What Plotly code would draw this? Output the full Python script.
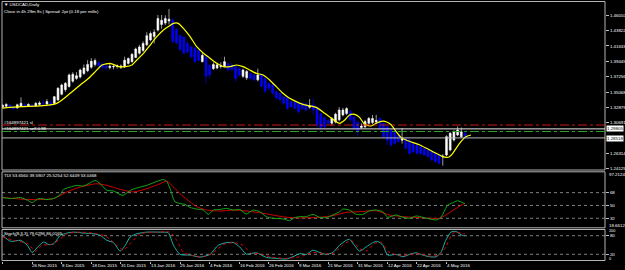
import plotly.graph_objects as go

# ---------------- data ----------------
date_labels = ["16 Nov 2015", "26 Nov 2015", "8 Dec 2015", "18 Dec 2015", "31 Dec 2015",
               "13 Jan 2016", "25 Jan 2016", "4 Feb 2016", "16 Feb 2016", "26 Feb 2016",
               "9 Mar 2016", "21 Mar 2016", "31 Mar 2016", "12 Apr 2016", "22 Apr 2016",
               "4 May 2016"]
label_bars = [0, 8, 16, 24, 32, 40, 48, 56, 64, 72, 80, 88, 96, 104, 112, 120]

opens = [1.3290, 1.3305, 1.3320, 1.3290, 1.3280, 1.3300, 1.3325, 1.3310, 1.3320, 1.3310,
         1.3330, 1.3340, 1.3335, 1.3355, 1.3345, 1.3393, 1.3475, 1.3540, 1.3585, 1.3660,
         1.3700, 1.3720, 1.3770, 1.3810, 1.3860, 1.3900, 1.3925, 1.3905, 1.3880, 1.3855,
         1.3865, 1.3870, 1.3860, 1.3868, 1.3915, 1.3940, 1.4000, 1.4060, 1.4100, 1.4180,
         1.4250, 1.4300, 1.4390, 1.4470, 1.4490, 1.4520, 1.4534, 1.4400, 1.4310, 1.4290,
         1.4200, 1.4150, 1.4130, 1.4100, 1.3940, 1.4010, 1.3890, 1.3840, 1.3850, 1.3870,
         1.3870, 1.3910, 1.3890, 1.3870, 1.3840, 1.3730, 1.3710, 1.3770, 1.3750, 1.3680,
         1.3750, 1.3700, 1.3630, 1.3610, 1.3510, 1.3490, 1.3440, 1.3420, 1.3370, 1.3365,
         1.3345, 1.3345, 1.3340, 1.3290, 1.3320, 1.3290, 1.3200, 1.3140, 1.3100, 1.3060,
         1.3080, 1.3110, 1.3180, 1.3200, 1.3230, 1.3150, 1.3080, 1.3000, 1.3010, 1.3060,
         1.3070, 1.3080, 1.3130, 1.3060, 1.3010, 1.2960, 1.2940, 1.2890, 1.2820, 1.2845,
         1.2820, 1.2770, 1.2750, 1.2725, 1.2700, 1.2680, 1.2655, 1.2630, 1.2608, 1.2580,
         1.2608, 1.2680, 1.2822, 1.2893, 1.2869, 1.2917]
highs = [1.3330, 1.3345, 1.3335, 1.3310, 1.3340, 1.3430, 1.3355, 1.3345, 1.3340, 1.3365,
         1.3375, 1.3390, 1.3405, 1.3390, 1.3450, 1.3575, 1.3625, 1.3650, 1.3770, 1.3790,
         1.3790, 1.3840, 1.3900, 1.3960, 1.3990, 1.3985, 1.3950, 1.3930, 1.3905, 1.3910,
         1.3890, 1.3900, 1.3900, 1.4011, 1.4000, 1.4060, 1.4140, 1.4180, 1.4230, 1.4360,
         1.4370, 1.4400, 1.4605, 1.4605, 1.4600, 1.4690, 1.4560, 1.4420, 1.4330, 1.4300,
         1.4230, 1.4170, 1.4150, 1.4110, 1.4060, 1.4030, 1.3900, 1.3930, 1.3920, 1.3930,
         1.4010, 1.3930, 1.3910, 1.3890, 1.3860, 1.3840, 1.3820, 1.3790, 1.3770, 1.3840,
         1.3770, 1.3710, 1.3640, 1.3620, 1.3530, 1.3500, 1.3450, 1.3430, 1.3380, 1.3380,
         1.3360, 1.3360, 1.3350, 1.3405, 1.3410, 1.3300, 1.3210, 1.3160, 1.3120, 1.3150,
         1.3210, 1.3290, 1.3280, 1.3290, 1.3250, 1.3160, 1.3090, 1.3060, 1.3110, 1.3150,
         1.3180, 1.3180, 1.3150, 1.3070, 1.3020, 1.2970, 1.2950, 1.2900, 1.2990, 1.2855,
         1.2830, 1.2780, 1.2760, 1.2735, 1.2710, 1.2690, 1.2665, 1.2640, 1.2615, 1.2620,
         1.2890, 1.2935, 1.2960, 1.3015, 1.3000, 1.2930]
lows = [1.3270, 1.3285, 1.3260, 1.3245, 1.3270, 1.3290, 1.3290, 1.3295, 1.3290, 1.3300,
        1.3310, 1.3315, 1.3325, 1.3300, 1.3335, 1.3380, 1.3460, 1.3510, 1.3570, 1.3640,
        1.3680, 1.3700, 1.3750, 1.3790, 1.3840, 1.3870, 1.3840, 1.3820, 1.3825, 1.3830,
        1.3830, 1.3840, 1.3835, 1.3850, 1.3900, 1.3925, 1.3990, 1.4040, 1.4080, 1.4160,
        1.4230, 1.4200, 1.4370, 1.4410, 1.4460, 1.4470, 1.4200, 1.4180, 1.4090, 1.4040,
        1.4050, 1.3990, 1.3920, 1.3940, 1.3930, 1.3630, 1.3700, 1.3820, 1.3830, 1.3840,
        1.3860, 1.3800, 1.3800, 1.3650, 1.3720, 1.3710, 1.3680, 1.3680, 1.3660, 1.3660,
        1.3570, 1.3490, 1.3530, 1.3470, 1.3400, 1.3370, 1.3320, 1.3250, 1.3280, 1.3250,
        1.3200, 1.3250, 1.3230, 1.3270, 1.3180, 1.3000, 1.2960, 1.2990, 1.3030, 1.3030,
        1.3060, 1.3090, 1.3160, 1.3180, 1.3090, 1.2970, 1.2870, 1.2980, 1.2990, 1.3040,
        1.3050, 1.3050, 1.2970, 1.2850, 1.2750, 1.2730, 1.2760, 1.2780, 1.2770, 1.2690,
        1.2610, 1.2640, 1.2615, 1.2610, 1.2590, 1.2570, 1.2520, 1.2495, 1.2470, 1.2456,
        1.2590, 1.2660, 1.2800, 1.2880, 1.2850, 1.2840]
closes = [1.3320, 1.3330, 1.3280, 1.3270, 1.3325, 1.3345, 1.3305, 1.3330, 1.3305, 1.3345,
          1.3350, 1.3335, 1.3370, 1.3320, 1.3440, 1.3560, 1.3607, 1.3630, 1.3750, 1.3760,
          1.3740, 1.3820, 1.3850, 1.3900, 1.3945, 1.3955, 1.3880, 1.3860, 1.3850, 1.3875,
          1.3870, 1.3880, 1.3875, 1.3960, 1.3985, 1.4045, 1.4120, 1.4150, 1.4200, 1.4310,
          1.4340, 1.4360, 1.4555, 1.4530, 1.4555, 1.4545, 1.4230, 1.4210, 1.4110, 1.4060,
          1.4080, 1.4010, 1.3940, 1.3960, 1.4030, 1.3730, 1.3750, 1.3900, 1.3895, 1.3880,
          1.3940, 1.3820, 1.3830, 1.3700, 1.3750, 1.3820, 1.3800, 1.3700, 1.3680, 1.3750,
          1.3590, 1.3520, 1.3560, 1.3490, 1.3420, 1.3395, 1.3345, 1.3275, 1.3300, 1.3275,
          1.3225, 1.3270, 1.3250, 1.3310, 1.3250, 1.3040, 1.3000, 1.3010, 1.3060, 1.3130,
          1.3190, 1.3250, 1.3250, 1.3270, 1.3110, 1.2990, 1.2940, 1.3020, 1.3085, 1.3130,
          1.3130, 1.3100, 1.2990, 1.2870, 1.2820, 1.2750, 1.2775, 1.2800, 1.2840, 1.2705,
          1.2630, 1.2655, 1.2630, 1.2630, 1.2608, 1.2585, 1.2537, 1.2513, 1.2490, 1.2590,
          1.2870, 1.2917, 1.2940, 1.2965, 1.2940, 1.2852]

ma_bars = [0, 4.9, 10.2, 14.3, 16.1, 18.3, 21.0, 23.3, 25.1, 26.9, 29.1, 31.4, 33.2, 35.0,
           36.3, 38.1, 39.9, 41.7, 43.5, 44.8, 46.2, 47.5, 48.9, 50.7, 52.5, 54.3, 56.1,
           57.9, 59.7, 61.5, 63.3, 65.0, 66.8, 68.6, 70.4, 72.2, 74.0, 75.8, 77.6, 79.4,
           81.2, 83.0, 84.8, 87.1, 89.3, 91.1, 92.5, 93.8, 95.2, 96.5, 97.8, 99.6, 101.0,
           102.4, 103.7, 105.1, 106.4, 107.8, 109.1, 111.0, 112.8, 114.6, 116.3, 118.1,
           119.0, 119.9, 120.8, 121.7, 122.6, 123.9, 125.2, 126.6]
ma_vals = [1.3278, 1.3297, 1.3309, 1.3337, 1.3393, 1.3488, 1.3607, 1.3702, 1.3797, 1.3892,
           1.3916, 1.3868, 1.3868, 1.3892, 1.3963, 1.4059, 1.4177, 1.4296, 1.4391, 1.4439,
           1.4486, 1.4486, 1.4415, 1.4296, 1.4153, 1.4059, 1.3987, 1.3916, 1.3868, 1.3868,
           1.3892, 1.3868, 1.3821, 1.3773, 1.3749, 1.3678, 1.3583, 1.3488, 1.3416, 1.3369,
           1.3331, 1.3309, 1.3288, 1.3202, 1.3117, 1.3060, 1.3107, 1.3179, 1.3188, 1.3145,
           1.3050, 1.3022, 1.3060, 1.3088, 1.3083, 1.3036, 1.2941, 1.2855, 1.2822, 1.2784,
           1.2751, 1.2703, 1.2655, 1.2608, 1.2584, 1.2575, 1.2584, 1.2632, 1.2703, 1.2798,
           1.2869, 1.2893]

tdi_green_bars = [0, 2.2, 4.9, 6.7, 8.0, 9.8, 12.0, 13.8, 15.6, 16.5, 18.3, 20.1, 21.9, 23.7,
                  25.1, 26.4, 28.2, 30.0, 31.8, 32.7, 34.5, 36.3, 39.0, 41.7, 43.5, 44.4,
                  45.3, 46.6, 48.0, 49.3, 50.7, 52.5, 54.3, 55.6, 57.0, 58.8, 60.6, 62.4,
                  64.1, 65.9, 67.7, 69.5, 71.3, 73.1, 75.8, 77.6, 78.9, 80.3, 82.1, 83.9,
                  85.7, 87.5, 89.3, 91.1, 92.0, 93.8, 95.6, 97.4, 99.2, 101.0, 102.8, 104.1,
                  106.4, 108.2, 110.0, 111.8, 113.6, 115.4, 117.2, 118.0, 118.9, 120.3,
                  121.6, 123.0, 124.3, 125]
tdi_green_vals = [61.1, 59.7, 61.1, 57.4, 54.2, 59.7, 58.3, 59.7, 65.2, 72.6, 75.8, 78.2, 77.2,
                  81.8, 85.1, 80.5, 71.2, 70.3, 65.2, 64.3, 71.2, 74.5, 78.2, 83.7, 86.5, 83.7,
                  73.5, 55.1, 52.8, 51.4, 47.2, 44.9, 43.5, 37.5, 43.5, 44.5, 45.8, 43.5, 44.5,
                  38.0, 43.5, 41.2, 34.3, 32.0, 31.1, 28.8, 32.9, 34.3, 34.3, 37.5, 33.4, 32.9,
                  36.6, 41.2, 44.9, 43.5, 37.5, 37.5, 42.6, 43.5, 41.2, 33.4, 36.6, 33.4, 32.0,
                  35.2, 33.4, 31.1, 29.7, 31.1, 36.6, 50.5, 53.7, 56.5, 54.2, 52.6]
tdi_red_bars = [0, 3.1, 6.7, 10.2, 13.8, 17.4, 21.0, 25.5, 28.2, 31.8, 35.4, 39.0, 42.6, 44.4,
                46.2, 48.4, 50.7, 52.5, 55.2, 58.8, 62.4, 65.9, 69.5, 73.1, 76.7, 80.3, 85.7,
                89.3, 92.9, 96.5, 101.0, 104.6, 108.2, 112.7, 116.3, 118.0, 119.8, 121.6,
                124.3, 125]
tdi_red_vals = [61.1, 59.7, 58.3, 58.3, 59.7, 68.9, 75.8, 80.5, 78.2, 72.6, 68.9, 73.5, 80.5,
                84.2, 75.8, 64.3, 55.1, 48.2, 43.5, 42.2, 43.5, 42.2, 39.8, 36.6, 33.4, 32.5,
                33.4, 35.7, 40.3, 41.2, 42.6, 36.6, 34.3, 32.9, 32.0, 32.0, 36.6, 42.6, 51.4,
                53.0]

stoch_main_bars = [0, 2.2, 4.9, 6.7, 8.0, 9.3, 11.1, 12.5, 13.8, 15.6, 17.4, 19.2, 21.9, 24.6,
                   26.4, 28.2, 30.0, 31.8, 33.2, 34.5, 36.3, 39.0, 42.6, 44.8, 46.2, 48.0,
                   50.7, 53.4, 56.1, 58.3, 60.6, 62.4, 64.1, 65.9, 68.6, 71.3, 74.0, 76.7,
                   78.5, 80.3, 82.1, 83.9, 85.7, 87.5, 89.3, 91.1, 92.9, 93.8, 95.1, 96.5,
                   98.3, 100.1, 101.4, 102.8, 104.1, 106.4, 108.2, 110.0, 111.8, 113.6, 115.4,
                   117.2, 118.5, 119.8, 121.2, 122.5, 124.3, 125]
stoch_main_vals = [81, 61.9, 65, 49.2, 25.9, 40.7, 59.8, 51.3, 53.4, 81, 88.4, 91.5, 88.4, 86.2,
                   81, 65, 57.7, 30.2, 49.2, 75.7, 86.2, 91.5, 91.5, 89.4, 49.2, 19.6, 17.5,
                   11.1, 19.6, 49.2, 57.7, 57.7, 43.9, 20.6, 24.9, 10.1, 6.9, 4.8, 12.2, 22,
                   19.6, 33.3, 25.9, 19.6, 25.9, 49.2, 65, 68.3, 49.2, 30.2, 43.9, 57.7, 61.9,
                   49.2, 17.5, 19.6, 12.2, 19.6, 24.9, 17.5, 12.2, 12.2, 25.9, 65, 91.5, 93.7,
                   81, 79.6]
stoch_sig_bars = [0, 3.1, 6.7, 8.9, 10.7, 12.9, 15.2, 17.4, 21.0, 25.5, 28.2, 30.9, 32.7, 34.9,
                  37.2, 41.7, 45.3, 47.1, 48.9, 51.6, 54.3, 57.0, 59.7, 62.4, 65.0, 67.3, 69.5,
                  72.2, 75.8, 79.4, 81.5, 83.9, 86.6, 89.3, 92.0, 94.2, 96.5, 98.3, 100.5,
                  102.3, 104.1, 107.3, 110.0, 112.7, 115.4, 118.0, 119.8, 121.6, 123.0, 124.3,
                  125]
stoch_sig_vals = [75.7, 65, 54.5, 30.2, 49.2, 51.3, 65, 86.2, 91.5, 86.2, 75.7, 49.2, 33.3, 59.8,
                  86.2, 91.5, 91.5, 65, 25.9, 15.3, 12.2, 25.9, 51.3, 57.7, 49.2, 22.8, 22.8,
                  12.2, 6.9, 10.1, 16, 25.9, 21.7, 22.8, 49.2, 65, 38.6, 30.2, 54.5, 59.8, 30.2,
                  15.3, 19.6, 21.7, 14.3, 17.5, 43.9, 86.2, 91.5, 86.2, 86.0]

price_tick_vals = [1.46010, 1.43822, 1.41633, 1.39445, 1.37256, 1.35068, 1.32879, 1.30691,
                   1.26314, 1.24125]
price_tick_text = ["1.46010", "1.43822", "1.41633", "1.39445", "1.37256", "1.35068",
                   "1.32879", "1.30691", "1.26314", "1.24125"]
tdi_levels = [68, 50, 32]
stoch_levels = [80, 20]
tdi_scale = [18.6612, 97.2124]
sl_price = 1.30359
open_price = 1.29432
hline_price = 1.29805
bid_price = 1.28518

# ---------------- layout helpers ----------------
W, H = 625, 270
def px(xp):
    return xp / W
def py(yp):
    return 1 - yp / H

X0, X1 = px(2), px(605)
MAIN = [py(170), py(1.5)]
TDI = [py(227.8), py(171.8)]
STO = [py(260.5), py(229.5)]
FONT = "Liberation Sans"
FS = 4.4
bars = list(range(len(opens)))

fig = go.Figure()
fig.add_trace(go.Candlestick(
    x=bars, open=opens, high=highs, low=lows, close=closes,
    increasing=dict(line=dict(color="#ffffff", width=0.6), fillcolor="#ffffff"),
    decreasing=dict(line=dict(color="#0000ff", width=0.6), fillcolor="#0000ff"),
    whiskerwidth=0, xaxis="x", yaxis="y", hoverinfo="skip"))
fig.add_trace(go.Scatter(x=ma_bars, y=ma_vals, mode="lines",
                         line=dict(color="#ffff00", width=1.2, shape="spline", smoothing=0.6),
                         xaxis="x", yaxis="y", hoverinfo="skip"))
fig.add_trace(go.Scatter(x=tdi_red_bars, y=tdi_red_vals, mode="lines",
                         line=dict(color="#d00000", width=1, shape="spline", smoothing=0.6),
                         xaxis="x", yaxis="y2", hoverinfo="skip"))
fig.add_trace(go.Scatter(x=tdi_green_bars, y=tdi_green_vals, mode="lines",
                         line=dict(color="#14a814", width=1, shape="spline", smoothing=0.6),
                         xaxis="x", yaxis="y2", hoverinfo="skip"))
fig.add_trace(go.Scatter(x=stoch_main_bars, y=stoch_main_vals, mode="lines",
                         line=dict(color="#20b2aa", width=1, shape="spline", smoothing=0.6),
                         xaxis="x", yaxis="y3", hoverinfo="skip"))
fig.add_trace(go.Scatter(x=stoch_sig_bars, y=stoch_sig_vals, mode="lines",
                         line=dict(color="#e00000", width=1, dash="dot", shape="spline", smoothing=0.6),
                         xaxis="x", yaxis="y3", hoverinfo="skip"))

axis_common = dict(showgrid=False, zeroline=False, fixedrange=True, side="right",
                   ticks="outside", ticklen=3, tickcolor="#c0c0c0", tickwidth=1,
                   tickfont=dict(family=FONT, size=FS, color="#ffffff"),
                   showline=False, anchor="x")

shapes = []
for dom in (MAIN, TDI, STO):
    shapes.append(dict(type="rect", xref="paper", yref="paper", x0=X0, x1=X1,
                       y0=dom[0], y1=dom[1], line=dict(color="#b4b4b4", width=1),
                       layer="above"))
for lv in tdi_levels:
    shapes.append(dict(type="line", xref="paper", yref="y2", x0=X0, x1=X1, y0=lv, y1=lv,
                       line=dict(color="#808080", width=1, dash="dot"), layer="below"))
for lv in stoch_levels:
    shapes.append(dict(type="line", xref="paper", yref="y3", x0=X0, x1=X1, y0=lv, y1=lv,
                       line=dict(color="#808080", width=1, dash="dot"), layer="below"))
shapes.append(dict(type="line", xref="paper", yref="y", x0=X0, x1=X1, y0=sl_price, y1=sl_price,
                   line=dict(color="#c81818", width=1, dash="dashdot")))
shapes.append(dict(type="line", xref="paper", yref="y", x0=X0, x1=X1, y0=hline_price, y1=hline_price,
                   line=dict(color="#e8e8e8", width=1)))
shapes.append(dict(type="line", xref="paper", yref="y", x0=X0, x1=X1, y0=open_price, y1=open_price,
                   line=dict(color="#2ca02c", width=1, dash="dashdot")))
shapes.append(dict(type="line", xref="paper", yref="y", x0=X0, x1=X1, y0=bid_price, y1=bid_price,
                   line=dict(color="#b8b8b8", width=1)))

def txt(x, y, s, xref="paper", color="#ffffff", bg=None, size=FS):
    d = dict(x=x, y=y, xref=xref, yref="paper", text=s, showarrow=False,
             xanchor="left", yanchor="middle", borderpad=0,
             font=dict(family=FONT, size=size, color=color))
    if bg:
        d["bgcolor"] = bg
    return d

ann = [
    txt(px(2.5), py(5), "▼ USDCAD,Daily"),
    txt(px(3.3), py(11), "Close in 4h 29m 8s | Spread: 2pt (0.18 per mille)"),
    txt(px(3.3), py(123), "#164897421 sl"),
    txt(px(3.3), py(128.3), "#164897421 sell 0.98"),
    txt(px(3.3), py(175), "TDI 53.6560 39.5907 25.5254 52.6449 53.0468"),
    txt(px(3.3), py(233), "Stoch(8,3,3) 79.6296 86.0165"),
    txt(px(607.5), py(174), "%.4f" % tdi_scale[1]),
    txt(px(607.5), py(225), "%.4f" % tdi_scale[0]),
    txt(px(607.5), py(231), "100", size=3.8),
    txt(px(607.5), py(258.6), "0", size=3.8),
    txt(px(606), py(128.9), "%.5f" % hline_price, color="#000000", bg="#ffffff"),
    txt(px(606), py(138), "%.5f" % bid_price, color="#000000", bg="#ffffff"),
]
for b, s in zip(label_bars, date_labels):
    ann.append(txt(b - 0.2, py(265.5), s, xref="x"))

fig.update_layout(
    width=W, height=H, margin=dict(l=0, r=0, t=0, b=0),
    paper_bgcolor="#000000", plot_bgcolor="#000000", showlegend=False,
    font=dict(family=FONT, size=FS, color="#ffffff"),
    xaxis=dict(domain=[X0, X1], range=[-0.135, 162.84], anchor="y3", showgrid=False,
               zeroline=False, fixedrange=True, rangeslider=dict(visible=False),
               ticks="outside", ticklen=2, tickcolor="#c0c0c0", tickvals=label_bars,
               showticklabels=False, showline=False),
    yaxis=dict(domain=MAIN, range=[1.23939, 1.47979], tickvals=price_tick_vals,
               ticktext=price_tick_text, **axis_common),
    yaxis2=dict(domain=TDI, range=tdi_scale, tickvals=tdi_levels,
                ticktext=[str(v) for v in tdi_levels], **axis_common),
    yaxis3=dict(domain=STO, range=[0, 100], tickvals=stoch_levels,
                ticktext=[str(v) for v in stoch_levels], **axis_common),
    shapes=shapes, annotations=ann,
)

fig.write_html("out.html")
